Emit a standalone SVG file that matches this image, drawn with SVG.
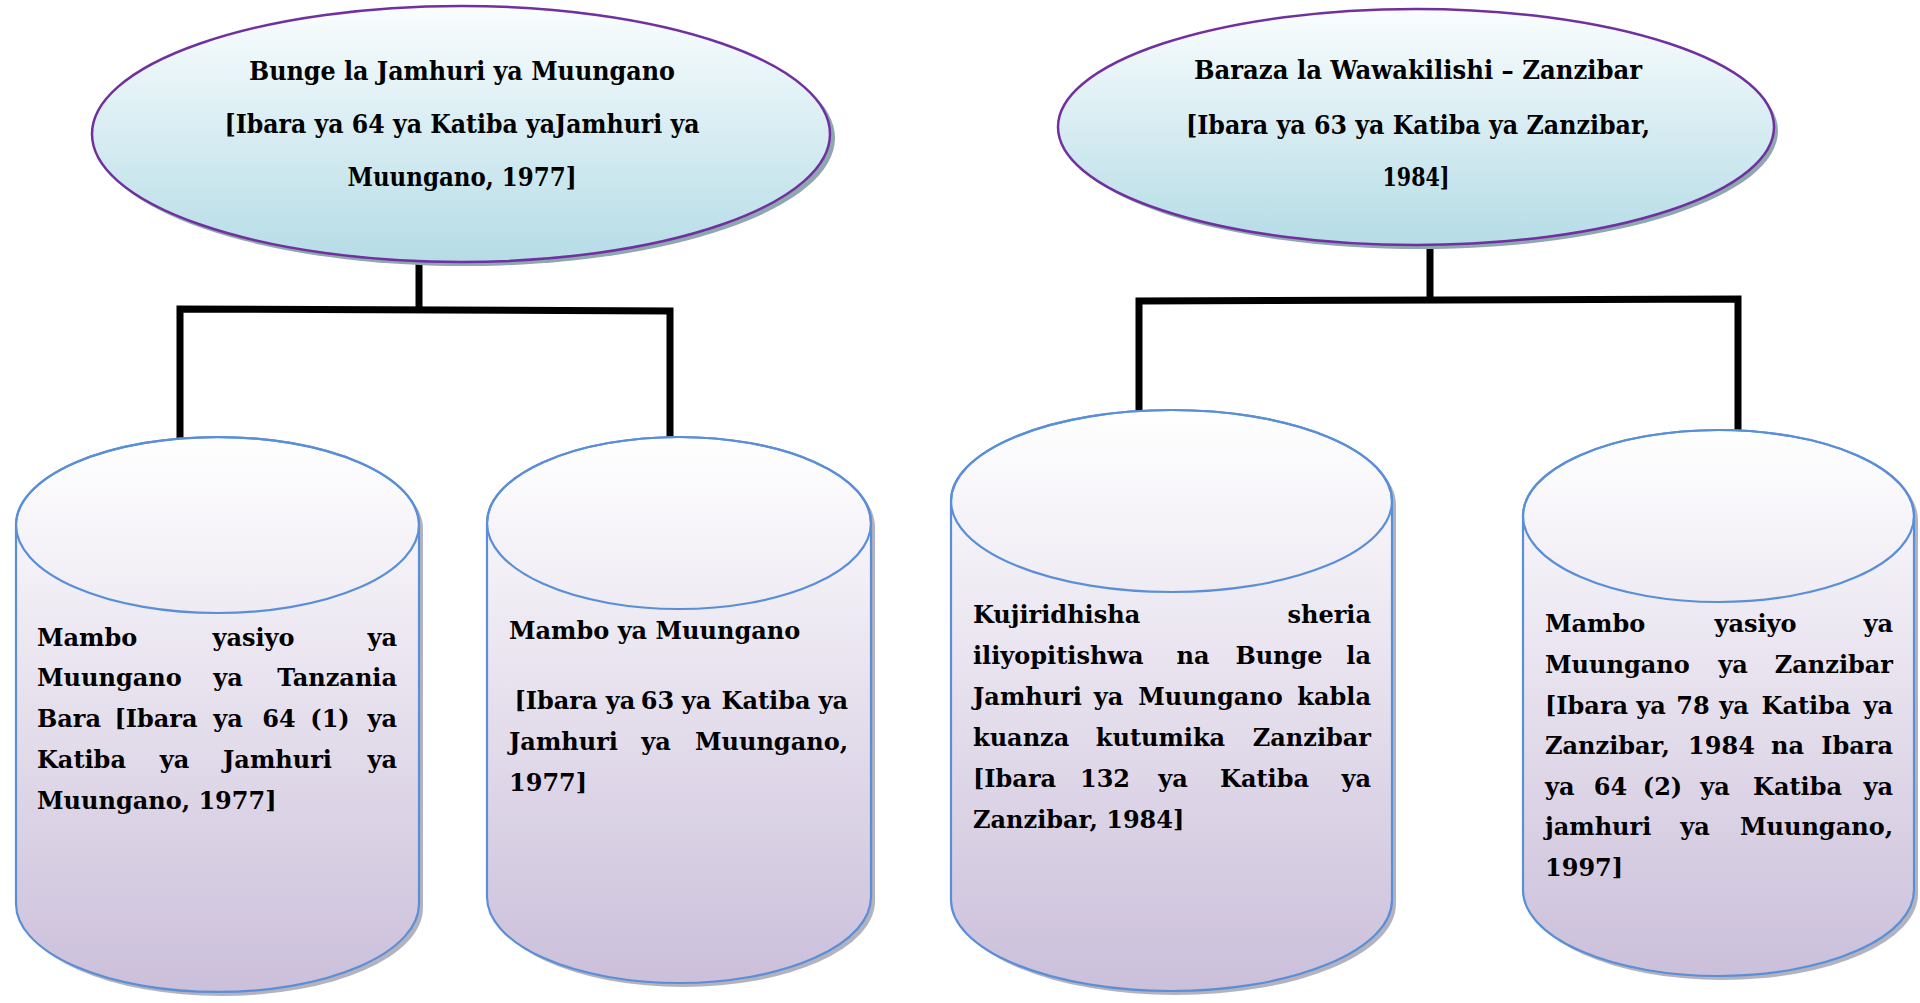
<svg xmlns="http://www.w3.org/2000/svg" width="1920" height="1003" viewBox="0 0 1920 1003">
<style>
.t{font-family:"DejaVu Serif","Liberation Serif",serif;font-weight:bold;font-size:24px;fill:#000}
.h{font-family:"DejaVu Serif","Liberation Serif",serif;font-weight:bold;font-size:26px;fill:#000;text-anchor:middle}
.m{text-anchor:middle}
.e{text-anchor:end}
.oval{stroke:#7030a0;stroke-width:2.5;fill:url(#ovalGrad)}
.ovalShadow{fill:#8ea7b0}
.cyl{stroke:#5a8fd8;stroke-width:2.2;fill:url(#cylGrad)}
.cylTop{stroke:#5a8fd8;stroke-width:2.2;fill:none}
.cylShadow{fill:#9a98aa;opacity:0.75}
.link{stroke:#000;stroke-width:7;fill:none;stroke-linejoin:miter;stroke-linecap:butt}
</style>
<defs>
<linearGradient id="ovalGrad" x1="0" y1="0" x2="0" y2="1">
<stop offset="0" stop-color="#fafdfe"/>
<stop offset="1" stop-color="#b5dce6"/>
</linearGradient>
<linearGradient id="cylGrad" x1="0" y1="0" x2="0" y2="1">
<stop offset="0" stop-color="#ffffff"/>
<stop offset="1" stop-color="#cbbfda"/>
</linearGradient>
</defs>
<rect width="1920" height="1003" fill="#ffffff"/>

<g id="connectors">
<path class="link" d="M419,262 V310"/>
<polyline class="link" points="180,444 180,309 670,311 670,437"/>
<path class="link" d="M1430,245 V300"/>
<polyline class="link" points="1139,411 1139,301 1738,299 1738,431"/>
</g>

<g id="bunge">
<ellipse class="ovalShadow" cx="465" cy="138" rx="370" ry="128"/>
<ellipse class="oval" cx="461" cy="134" rx="369" ry="128"/>
<text class="h" x="462" y="80" textLength="426" lengthAdjust="spacingAndGlyphs">Bunge la Jamhuri ya Muungano</text>
<text class="h" x="462" y="133" textLength="475" lengthAdjust="spacingAndGlyphs">[Ibara ya 64 ya Katiba yaJamhuri ya</text>
<text class="h" x="462" y="186" textLength="229" lengthAdjust="spacingAndGlyphs">Muungano, 1977]</text>
</g>

<g id="baraza">
<ellipse class="ovalShadow" cx="1420" cy="131" rx="358" ry="118"/>
<ellipse class="oval" cx="1416" cy="127" rx="358" ry="118"/>
<text class="h" x="1418" y="79" textLength="448" lengthAdjust="spacingAndGlyphs">Baraza la Wawakilishi – Zanzibar</text>
<text class="h" x="1418" y="134" textLength="464" lengthAdjust="spacingAndGlyphs">[Ibara ya 63 ya Katiba ya Zanzibar,</text>
<text class="h" x="1416" y="186" textLength="67" lengthAdjust="spacingAndGlyphs">1984]</text>
</g>

<g id="mambo-bara">
<path class="cylShadow" transform="translate(4,4)" d="M16,525 V904 A201.5,88 0 0 0 419,904 V525 A201.5,88 0 0 0 16,525 Z"/>
<path class="cyl" d="M16,525 V904 A201.5,88 0 0 0 419,904 V525 A201.5,88 0 0 0 16,525 Z"/>
<ellipse class="cylTop" cx="217.5" cy="525" rx="201.5" ry="88"/>
<text class="t" y="646"><tspan x="37">Mambo</tspan><tspan class="m" x="253.5">yasiyo</tspan><tspan class="e" x="397">ya</tspan></text>
<text class="t" y="686"><tspan x="37">Muungano</tspan><tspan class="m" x="228">ya</tspan><tspan class="e" x="397">Tanzania</tspan></text>
<text class="t" y="727"><tspan x="37">Bara</tspan><tspan class="m" x="156">[Ibara</tspan><tspan class="m" x="228">ya</tspan><tspan class="m" x="279">64</tspan><tspan class="m" x="330">(1)</tspan><tspan class="e" x="397">ya</tspan></text>
<text class="t" y="768"><tspan x="37">Katiba</tspan><tspan class="m" x="174.5">ya</tspan><tspan class="m" x="277.5">Jamhuri</tspan><tspan class="e" x="397">ya</tspan></text>
<text class="t" x="37" y="809">Muungano, 1977]</text>
</g>

<g id="mambo-muungano">
<path class="cylShadow" transform="translate(4,4)" d="M487,523 V897 A192,86 0 0 0 871,897 V523 A192,86 0 0 0 487,523 Z"/>
<path class="cyl" d="M487,523 V897 A192,86 0 0 0 871,897 V523 A192,86 0 0 0 487,523 Z"/>
<ellipse class="cylTop" cx="679" cy="523" rx="192" ry="86"/>
<text class="t" x="509" y="639">Mambo ya Muungano</text>
<text class="t" y="709"><tspan class="m" x="556">[Ibara</tspan><tspan class="m" x="620.5">ya</tspan><tspan class="m" x="657.5">63</tspan><tspan class="m" x="696.5">ya</tspan><tspan class="m" x="766">Katiba</tspan><tspan class="e" x="848">ya</tspan></text>
<text class="t" y="750"><tspan x="509">Jamhuri</tspan><tspan class="m" x="656">ya</tspan><tspan class="e" x="848">Muungano,</tspan></text>
<text class="t" x="509" y="791">1977]</text>
</g>

<g id="kujiridhisha">
<path class="cylShadow" transform="translate(4,4)" d="M951,501 V900 A220.5,91 0 0 0 1392,900 V501 A220.5,91 0 0 0 951,501 Z"/>
<path class="cyl" d="M951,501 V900 A220.5,91 0 0 0 1392,900 V501 A220.5,91 0 0 0 951,501 Z"/>
<ellipse class="cylTop" cx="1171.5" cy="501" rx="220.5" ry="91"/>
<text class="t" y="623"><tspan x="973">Kujiridhisha</tspan><tspan class="e" x="1371">sheria</tspan></text>
<text class="t" y="664"><tspan x="973">iliyopitishwa</tspan><tspan class="m" x="1193">na</tspan><tspan class="m" x="1279">Bunge</tspan><tspan class="e" x="1371">la</tspan></text>
<text class="t" y="705"><tspan x="973">Jamhuri</tspan><tspan class="m" x="1108.5">ya</tspan><tspan class="m" x="1210.5">Muungano</tspan><tspan class="e" x="1371">kabla</tspan></text>
<text class="t" y="746"><tspan x="973">kuanza</tspan><tspan class="m" x="1160.5">kutumika</tspan><tspan class="e" x="1371">Zanzibar</tspan></text>
<text class="t" y="787"><tspan x="973">[Ibara</tspan><tspan class="m" x="1105">132</tspan><tspan class="m" x="1173">ya</tspan><tspan class="m" x="1264.5">Katiba</tspan><tspan class="e" x="1371">ya</tspan></text>
<text class="t" x="973" y="828">Zanzibar, 1984]</text>
</g>

<g id="mambo-zanzibar">
<path class="cylShadow" transform="translate(4,4)" d="M1523,516 V890 A195.5,86 0 0 0 1914,890 V516 A195.5,86 0 0 0 1523,516 Z"/>
<path class="cyl" d="M1523,516 V890 A195.5,86 0 0 0 1914,890 V516 A195.5,86 0 0 0 1523,516 Z"/>
<ellipse class="cylTop" cx="1718.5" cy="516" rx="195.5" ry="86"/>
<text class="t" y="632"><tspan x="1545">Mambo</tspan><tspan class="m" x="1755.5">yasiyo</tspan><tspan class="e" x="1893">ya</tspan></text>
<text class="t" y="673"><tspan x="1545">Muungano</tspan><tspan class="m" x="1733">ya</tspan><tspan class="e" x="1893">Zanzibar</tspan></text>
<text class="t" y="714"><tspan x="1545">[Ibara</tspan><tspan class="m" x="1651">ya</tspan><tspan class="m" x="1693">78</tspan><tspan class="m" x="1734">ya</tspan><tspan class="m" x="1806">Katiba</tspan><tspan class="e" x="1893">ya</tspan></text>
<text class="t" y="754"><tspan x="1545">Zanzibar,</tspan><tspan class="m" x="1721.5">1984</tspan><tspan class="m" x="1787.5">na</tspan><tspan class="e" x="1893">Ibara</tspan></text>
<text class="t" y="795"><tspan x="1545">ya</tspan><tspan class="m" x="1610.5">64</tspan><tspan class="m" x="1662.5">(2)</tspan><tspan class="m" x="1715">ya</tspan><tspan class="m" x="1797.5">Katiba</tspan><tspan class="e" x="1893">ya</tspan></text>
<text class="t" y="835"><tspan x="1545">jamhuri</tspan><tspan class="m" x="1695">ya</tspan><tspan class="e" x="1893">Muungano,</tspan></text>
<text class="t" x="1545" y="876">1997]</text>
</g>
</svg>
